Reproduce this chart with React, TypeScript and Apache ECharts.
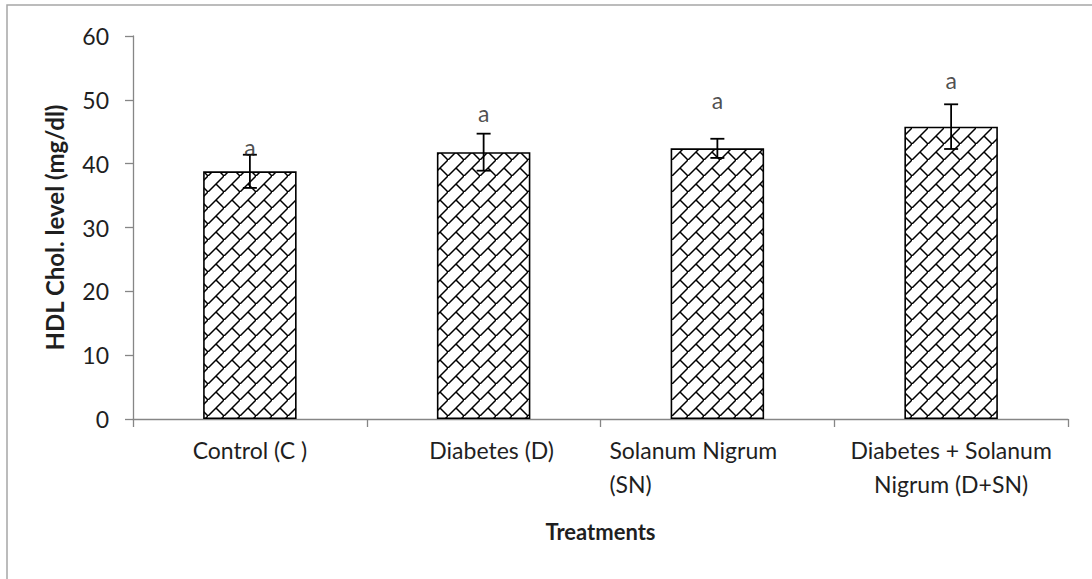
import React, { useEffect, useRef } from "react";
import * as echarts from "echarts";

const categories = ["Control (C )", "Diabetes (D)", "Solanum Nigrum\n(SN)", "Diabetes + Solanum\nNigrum (D+SN)"];
const hdlValues = [38.8, 41.8, 42.4, 45.8];
const errorValues = [2.6, 2.9, 1.5, 3.5];
const letterLabels = ["a", "a", "a", "a"];
const letterPositions = [42.6, 47.9, 50.0, 53.1];
const yTicks = { min: 0, max: 60, interval: 10 };

const FONT = "Lato";
const TXT = "#1f1f1f";

const hatchSvg =
  "<svg xmlns='http://www.w3.org/2000/svg' width='16' height='16'>" +
  "<rect width='16' height='16' fill='white'/>" +
  "<path d='M-2 18 L18 -2 M8 8 L17 17 M-1 -1 L0 0' stroke='black' stroke-width='1.5' fill='none'/>" +
  "</svg>";
const hatchUrl = "data:image/svg+xml;utf8," + encodeURIComponent(hatchSvg);

export default function App() {
  const ref = useRef<HTMLDivElement>(null);
  useEffect(() => {
    if (!ref.current) return;
    const chart = echarts.init(ref.current, null, { renderer: "svg" });
    const SN = categories[2];
    const DIA = categories[1];
    chart.setOption({
      animation: false,
      backgroundColor: "#ffffff",
      textStyle: { fontFamily: FONT },
      graphic: [
        {
          type: "rect",
          shape: { x: 7, y: 5, width: 1200, height: 700 },
          style: { fill: "none", stroke: "#a6a6a6", lineWidth: 1.5 },
          silent: true,
          z: 0,
        },
      ],
      grid: { left: 133, right: 24, top: 36, bottom: 160 },
      xAxis: {
        type: "category",
        data: categories,
        name: "Treatments",
        nameLocation: "middle",
        nameGap: 101,
        nameTextStyle: { fontFamily: FONT, fontWeight: "bold", fontSize: 22, color: TXT },
        axisLine: { lineStyle: { color: "#868686", width: 1.3 } },
        axisTick: { show: true, length: 8, lineStyle: { color: "#868686", width: 1.3 } },
        axisLabel: {
          interval: 0,
          margin: 14,
          fontFamily: FONT,
          fontSize: 23,
          lineHeight: 34,
          color: TXT,
          formatter: (v: string) =>
            v === SN
              ? v.split("\n").map((l) => `{l|${l}}`).join("\n")
              : v === DIA
              ? `{d|${v}}`
              : v,
          rich: {
            l: { width: 216, align: "left", fontFamily: FONT, fontSize: 23, lineHeight: 34, color: TXT },
            d: { padding: [0, 0, 0, 16], fontFamily: FONT, fontSize: 23, lineHeight: 34, color: TXT },
          },
        },
      },
      yAxis: {
        type: "value",
        min: yTicks.min,
        max: yTicks.max,
        interval: yTicks.interval,
        name: "HDL Chol. level (mg/dl)",
        nameLocation: "middle",
        nameGap: 67,
        nameTextStyle: { fontFamily: FONT, fontWeight: "bold", fontSize: 24, color: TXT },
        axisLine: { show: true, lineStyle: { color: "#868686", width: 1.3 } },
        axisTick: { show: true, length: 8, lineStyle: { color: "#868686", width: 1.3 } },
        splitLine: { show: false },
        axisLabel: { margin: 24, fontFamily: FONT, fontSize: 23, color: TXT },
      },
      series: [
        {
          type: "bar",
          data: hdlValues,
          barWidth: "40%",
          itemStyle: {
            color: { image: hatchUrl, repeat: "repeat", imageWidth: 16, imageHeight: 16 } as any,
            borderColor: "#000",
            borderWidth: 1.6,
          },
          z: 2,
        },
        {
          type: "custom",
          data: hdlValues.map((v, i) => [i, v - errorValues[i], v + errorValues[i]]),
          renderItem: (params: any, api: any) => {
            const i = api.value(0);
            const lo = api.coord([i, api.value(1)]);
            const hi = api.coord([i, api.value(2)]);
            const half = 7;
            const st = { stroke: "#000", lineWidth: 1.8 };
            return {
              type: "group",
              children: [
                { type: "line", shape: { x1: hi[0], y1: hi[1], x2: lo[0], y2: lo[1] }, style: st },
                { type: "line", shape: { x1: hi[0] - half, y1: hi[1], x2: hi[0] + half, y2: hi[1] }, style: st },
                { type: "line", shape: { x1: lo[0] - half, y1: lo[1], x2: lo[0] + half, y2: lo[1] }, style: st },
              ],
            };
          },
          z: 5,
        },
        {
          type: "scatter",
          data: letterPositions,
          symbolSize: 0,
          label: {
            show: true,
            position: "inside",
            formatter: (p: any) => letterLabels[p.dataIndex],
            fontFamily: FONT,
            fontSize: 23,
            color: TXT,
          },
          z: 6,
        },
      ],
    });
    return () => chart.dispose();
  }, []);
  return <div ref={ref} style={{ position: "absolute", left: 0, top: 0, width: 1092, height: 579 }} />;
}
